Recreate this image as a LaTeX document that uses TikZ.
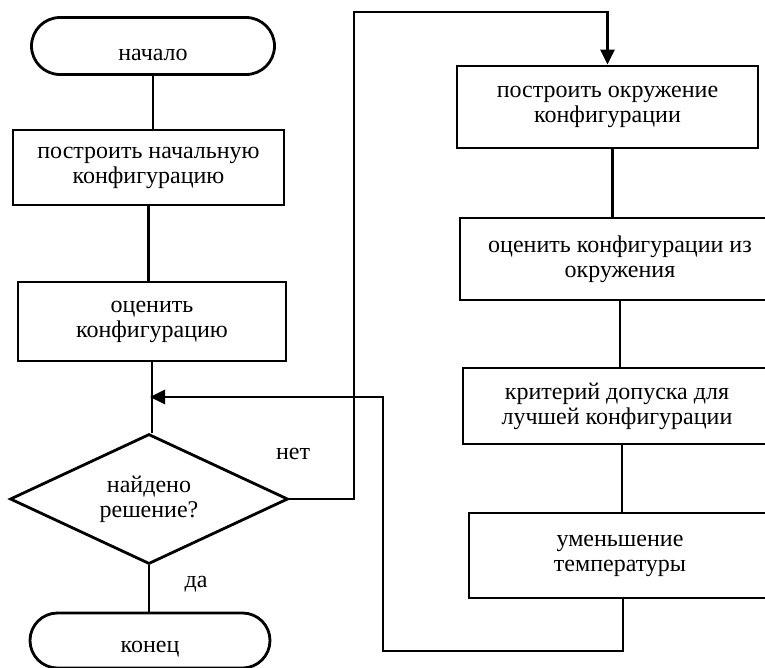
\documentclass[tikz,border=0pt]{standalone}
\usepackage{fontspec}
\setmainfont{Liberation Serif}
\usetikzlibrary{shapes.geometric,shapes.misc,arrows.meta}

\newcommand{\dropline}{\rule{0pt}{29pt}}

\begin{document}
\begin{tikzpicture}[line join=miter,x=1pt,y=-1pt,
	line width=2.8pt,
	every node/.style={font=\fontsize{24}{25}\selectfont},
	box/.style={draw,rectangle,align=center,inner sep=0pt,execute at begin node=\dropline},
	term/.style={draw,rounded rectangle,align=center,inner sep=0pt,execute at begin node=\dropline},
	decide/.style={draw,diamond,shape aspect=2.14,align=center,inner sep=0pt,execute at begin node=\dropline},
	lbl/.style={inner sep=0pt},
	arr/.style={-{Triangle[length=15pt,width=14pt]}}]
			\clip (0,0) rectangle (765,667);
			% left column
			\node [term,minimum width=243pt,minimum height=57pt] (start) at (153,46) {начало};
			\node [box,minimum width=271pt,minimum height=75pt] (init) at (148.5,167.5) {построить начальную\\конфигурацию};
			\node [box,minimum width=268pt,minimum height=79pt] (eval) at (152,321.5) {оценить\\конфигурацию};
			\node [decide,minimum width=278pt,minimum height=130pt] (dec) at (149,499) {найдено\\решение?};
			\node [term,minimum width=240pt,minimum height=55pt] (stop) at (150,640.5) {конец};
			% right column
			\node [box,minimum width=301pt,minimum height=82pt] (nbhd) at (607.5,107) {построить окружение\\конфигурации};
			\node [box,minimum width=320pt,minimum height=82pt] (evalnb) at (620,259) {оценить конфигурации из\\окружения};
			\node [box,minimum width=308pt,minimum height=76pt] (accept) at (617,406) {критерий допуска для\\лучшей конфигурации};
			\node [box,minimum width=302pt,minimum height=85pt] (cool) at (620,555.5) {уменьшение\\температуры};
			% labels
			\node [lbl] (no) at (293,454) {нет};
			\node [lbl] (yes) at (196,584) {да};
			% helper points
			\coordinate (join) at (150,397);
			\coordinate (up) at (354,12);
			\coordinate (back) at (383,651);
			% connectors
			\draw (start.south) -- (start.south |- init.north);
			\draw (init.south) -- (init.south |- eval.north);
			\draw (eval.south) -- (eval.south |- dec.north);
			\draw (dec.south) -- (dec.south |- stop.north);
			\draw [arr] (dec.east) -- (dec.east -| up) -- (up) -- (up -| nbhd.north) -- (nbhd.north);
			\draw ([xshift=5pt]nbhd.south) -- ([xshift=5pt]nbhd.south |- evalnb.north);
			\draw (evalnb.south) -- (evalnb.south |- accept.north);
			\draw ([xshift=5pt]accept.south) -- ([xshift=5pt]accept.south |- cool.north);
			\draw [arr] ([xshift=3pt]cool.south) -- ([xshift=3pt]cool.south |- back) -- (back) -- (back |- join) -- (join);
\end{tikzpicture}
\end{document}
